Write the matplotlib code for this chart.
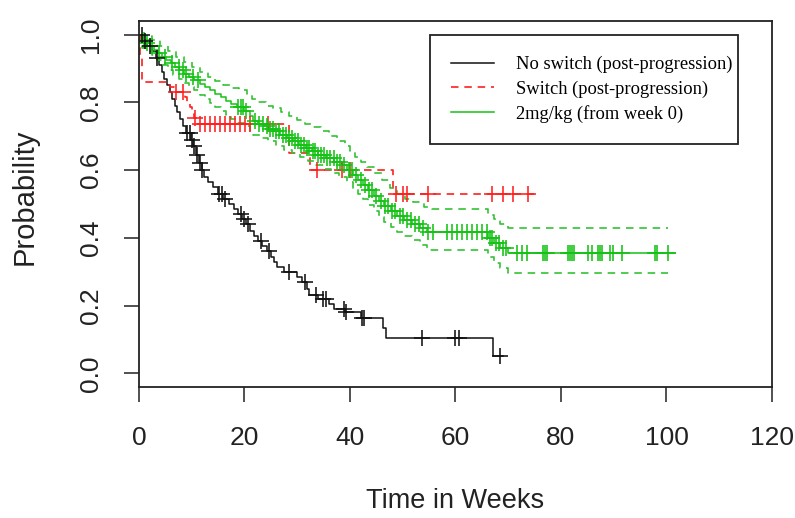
import numpy as np
import matplotlib
matplotlib.use("Agg")
import matplotlib.pyplot as plt

# Kaplan-Meier curves: step times (weeks) and survival
no_switch_t = [0, 0.8, 1.5, 2.5, 3.2, 3.8, 4.3, 4.8, 5.3, 5.8, 6.3, 6.8, 7.3, 7.8, 8.3, 8.9,
               9.8, 10.3, 10.8, 11.3, 11.9, 12.4, 13.0, 14.0, 15.0, 16.0, 17.0, 18.0, 18.8,
               19.5, 20.3, 21.0, 21.8, 22.6, 23.4, 24.2, 25.0, 25.6, 26.2, 27.5, 30.0, 31.0,
               31.8, 32.2, 34.0, 36.0, 37.0, 39.0, 42.0, 46.3, 46.8, 67.2, 69.0]
no_switch_p = [1.0, 0.98, 0.965, 0.95, 0.93, 0.91, 0.89, 0.87, 0.85, 0.83, 0.81, 0.79, 0.77,
               0.75, 0.73, 0.71, 0.69, 0.67, 0.645, 0.62, 0.60, 0.58, 0.565, 0.55, 0.53, 0.515,
               0.50, 0.485, 0.47, 0.455, 0.44, 0.42, 0.405, 0.39, 0.375, 0.36, 0.345, 0.33,
               0.315, 0.30, 0.285, 0.27, 0.25, 0.23, 0.22, 0.205, 0.19, 0.18, 0.165, 0.135,
               0.105, 0.05, 0.05]
no_switch_cens = [0.5, 1.2, 2.0, 3.5, 9.2, 9.6, 10.0, 10.4, 11.0, 11.5, 12.0, 15.2, 15.8, 16.4,
                  19.4, 20.0, 20.6, 23.2, 24.6, 28.5, 31.5, 33.5, 34.8, 35.4, 38.8, 39.3, 42.2,
                  42.6, 53.6, 59.9, 60.6, 68.5]

switch_t = [0, 0.2, 0.5, 5.8, 6.6, 8.8, 9.2, 9.6, 10.0, 10.4, 11.0, 28.5, 32.5, 48.2, 75.4]
switch_p = [1.0, 0.93, 0.86, 0.845, 0.83, 0.815, 0.80, 0.785, 0.77, 0.755, 0.735, 0.65, 0.60,
            0.53, 0.53]
switch_cens = [7.1, 8.4, 10.6, 11.6, 12.5, 13.5, 14.4, 15.4, 16.3, 17.3, 18.2, 19.1, 20.1, 21.0,
               24.5, 33.7, 38.4, 40.0, 48.7, 50.0, 50.8, 54.8, 66.9, 69.0, 71.0, 73.7]

dose_t = [0, 0.5, 1.2, 2.0, 2.8, 3.6, 4.4, 5.2, 6.0, 6.8, 7.6, 8.5, 9.5, 10.5, 11.5, 12.5, 13.5,
          14.5, 15.5, 16.5, 17.5, 18.5, 20.0, 21.0, 21.6, 22.6, 23.6, 24.6, 25.6, 26.8, 28.0,
          29.2, 30.4, 31.6, 32.8, 34.0, 35.5, 37.0, 38.4, 39.5, 40.5, 41.5, 42.5, 43.5, 44.5,
          45.5, 46.5, 47.7, 49.0, 50.3, 51.7, 53.2, 54.6, 66.2, 67.3, 68.5, 70.0, 101.6]
dose_p = [1.0, 0.985, 0.975, 0.965, 0.955, 0.945, 0.935, 0.925, 0.915, 0.905, 0.895, 0.885,
          0.875, 0.865, 0.855, 0.845, 0.835, 0.825, 0.815, 0.805, 0.795, 0.785, 0.775, 0.76,
          0.745, 0.737, 0.73, 0.722, 0.714, 0.705, 0.695, 0.685, 0.675, 0.665, 0.655, 0.645,
          0.635, 0.625, 0.615, 0.60, 0.585, 0.57, 0.555, 0.54, 0.525, 0.51, 0.495, 0.48, 0.465,
          0.452, 0.44, 0.43, 0.418, 0.40, 0.385, 0.37, 0.355, 0.355]
dose_cens = [1.0, 1.5, 2.5, 3.8, 5.0, 6.2, 7.5, 8.3, 9.0, 10.2, 11.2, 18.8, 19.3, 19.8, 20.3,
             22.0, 22.8, 23.5, 24.2, 24.8, 25.5, 26.0, 26.6, 27.3, 27.9, 28.5, 29.0, 29.6, 30.1,
             30.7, 31.2, 31.8, 32.3, 32.9, 33.4, 34.0, 34.5, 35.1, 35.7, 36.3, 36.9, 37.5, 38.2,
             38.9, 39.8, 40.3, 41.2, 42.0, 42.8, 43.6, 44.2, 45.0, 45.8, 46.6, 47.2, 48.0, 48.6,
             49.4, 50.0, 50.8, 51.5, 52.3, 53.0, 53.8, 54.8, 55.7, 58.4, 59.3, 60.3, 61.2, 62.2,
             63.1, 64.0, 65.0, 66.0, 66.6, 67.0, 67.6, 68.2, 69.0, 69.6, 71.7, 72.6, 73.6, 76.6,
             77.0, 77.4, 81.3, 81.7, 82.1, 82.5, 85.1, 85.9, 87.0, 87.4, 87.8, 89.3, 89.9, 91.6,
             97.8, 98.3, 100.3]

# confidence band of the 2mg/kg curve
upper_t = [0, 1.0, 2.5, 4.0, 5.5, 7.0, 8.5, 10.0, 11.5, 13.0, 14.5, 16.0, 17.5, 19.0, 20.5,
           21.5, 22.6, 24.0, 25.5, 27.0, 28.5, 30.0, 31.5, 33.0, 34.5, 36.0, 37.5, 39.0, 40.0,
           41.0, 42.0, 43.2, 44.5, 46.0, 47.5, 49.0, 50.5, 52.0, 54.0, 55.5, 66.2, 67.3, 68.5,
           70.0, 100.3]
upper_p = [1.0, 0.995, 0.985, 0.965, 0.95, 0.935, 0.92, 0.905, 0.89, 0.875, 0.862, 0.852,
           0.842, 0.835, 0.825, 0.81, 0.80, 0.79, 0.782, 0.772, 0.76, 0.748, 0.737, 0.726,
           0.714, 0.70, 0.685, 0.67, 0.655, 0.64, 0.625, 0.608, 0.59, 0.57, 0.548, 0.53, 0.515,
           0.505, 0.492, 0.485, 0.468, 0.455, 0.44, 0.43, 0.43]
lower_t = [0, 0.5, 1.5, 2.5, 3.5, 4.5, 5.5, 6.5, 7.5, 8.5, 9.5, 10.5, 11.5, 12.5, 13.5, 14.5,
           15.5, 16.5, 17.5, 18.5, 20.0, 21.0, 21.6, 23.0, 24.5, 26.0, 27.5, 29.0, 30.5, 32.0,
           33.5, 35.0, 36.5, 38.0, 39.5, 40.5, 41.5, 42.5, 43.5, 44.5, 45.5, 46.5, 47.7, 49.0,
           50.3, 51.7, 53.2, 54.6, 66.2, 67.3, 68.5, 70.0, 100.3]
lower_p = [1.0, 0.96, 0.95, 0.94, 0.925, 0.91, 0.895, 0.88, 0.868, 0.856, 0.845, 0.835, 0.822,
           0.81, 0.798, 0.786, 0.774, 0.762, 0.75, 0.74, 0.73, 0.715, 0.705, 0.695, 0.685,
           0.672, 0.66, 0.65, 0.638, 0.626, 0.614, 0.603, 0.592, 0.58, 0.565, 0.548, 0.53,
           0.515, 0.498, 0.48, 0.462, 0.447, 0.432, 0.418, 0.405, 0.393, 0.38, 0.365, 0.345,
           0.325, 0.31, 0.295, 0.295]

labels = ["No switch (post-progression)", "Switch (post-progression)", "2mg/kg (from week 0)"]
x_ticks = [0, 20, 40, 60, 80, 100, 120]
y_ticks = [0.0, 0.2, 0.4, 0.6, 0.8, 1.0]

BLACK = "#111111"
RED = "#ff1f1f"
GREEN = "#14c214"
GREEN_CI = "#33c233"


def surv_at(t, p, c):
    # value of the step curve at the censoring times
    idx = np.searchsorted(t, c, side="right") - 1
    return np.asarray(p)[idx]


fig = plt.figure(figsize=(7.95, 5.18), dpi=100)
ax = fig.add_axes([0.1748, 0.2529, 0.7962, 0.7066])

l1, = ax.step(no_switch_t, no_switch_p, where="post", color=BLACK, lw=1.1)
l2, = ax.step(switch_t, switch_p, where="post", color=RED, lw=1.2, dashes=(4.5, 3.5))
ax.step(upper_t, upper_p, where="post", color=GREEN_CI, lw=1.2, dashes=(4.5, 3.5))
ax.step(lower_t, lower_p, where="post", color=GREEN_CI, lw=1.2, dashes=(4.5, 3.5))
l3, = ax.step(dose_t, dose_p, where="post", color=GREEN, lw=1.1)

mk = dict(marker="+", ls="none", ms=11.5, mew=1.15)
ax.plot(switch_cens, surv_at(switch_t, switch_p, switch_cens), color=RED, **mk)
ax.plot(dose_cens, surv_at(dose_t, dose_p, dose_cens), color=GREEN, **mk)
ax.plot(no_switch_cens, surv_at(no_switch_t, no_switch_p, no_switch_cens), color=BLACK, **mk)

ax.set_xlim(0, 120)
ax.set_ylim(-0.04, 1.04)
ax.set_xticks(x_ticks)
ax.set_yticks(y_ticks)
ax.set_xticklabels([str(v) for v in x_ticks], fontsize=19, family="Liberation Sans", color="#222222")
ax.set_yticklabels([f"{v:.1f}" for v in y_ticks], fontsize=19, family="Liberation Sans",
                   rotation=90, va="center", color="#222222")
ax.tick_params(direction="out", length=11, width=1.1, color="#222222")
ax.tick_params(axis="x", pad=17)
ax.tick_params(axis="y", pad=15)
for s in ax.spines.values():
    s.set_linewidth(1.3)
    s.set_color("#222222")

ax.set_xlabel("Time in Weeks", fontsize=19.5, family="Liberation Sans", color="#222222")
ax.xaxis.set_label_coords(0.5, -0.275)
ax.set_ylabel("Probability", fontsize=21, family="Liberation Sans", color="#222222")
ax.yaxis.set_label_coords(-0.158, 0.52)

leg = ax.legend([l1, l2, l3], labels, loc="upper left", bbox_to_anchor=(0.46, 0.0, 0.486, 0.962),
                mode="expand", borderaxespad=0, fancybox=False, framealpha=1, edgecolor="#222222",
                prop={"family": "Liberation Serif", "size": 13.3}, handlelength=2.3,
                handletextpad=1.2, labelspacing=0.38, borderpad=1.15)
leg.get_frame().set_linewidth(1.3)

fig.savefig("out.png", dpi=100)
